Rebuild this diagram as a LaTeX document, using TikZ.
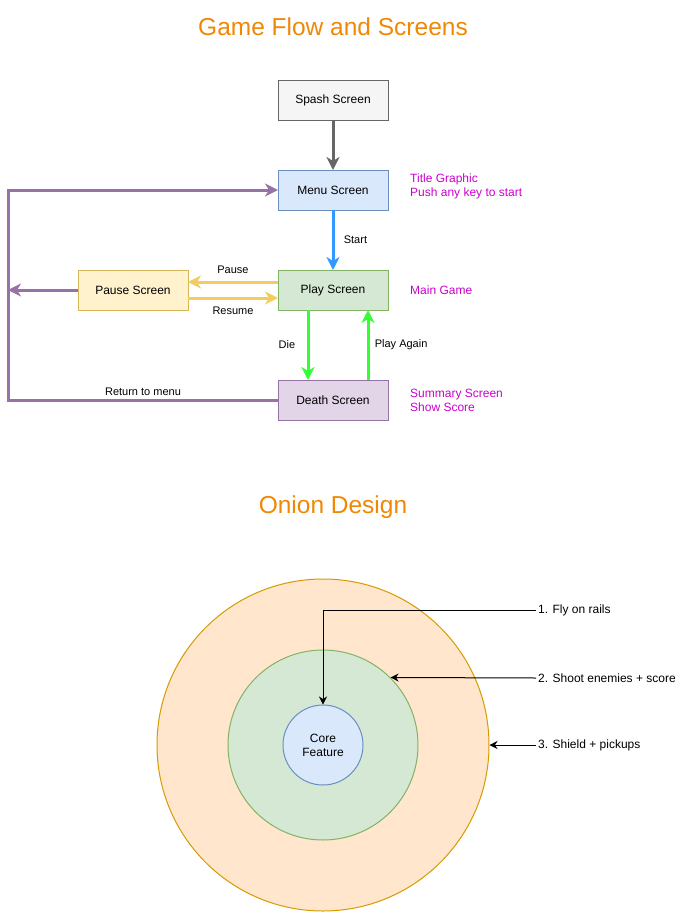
\documentclass[tikz,border=0pt]{standalone}
\usepackage{fontspec}
\setmainfont{Liberation Sans}
\usepackage{xcolor}
\usetikzlibrary{arrows.meta}
\usetikzlibrary{positioning}

\definecolor{titleorange}{HTML}{F08705}
\definecolor{notemagenta}{HTML}{CC00CC}
\definecolor{grayfill}{HTML}{F5F5F5}
\definecolor{grayline}{HTML}{666666}
\definecolor{bluefill}{HTML}{DAE8FC}
\definecolor{blueline}{HTML}{6C8EBF}
\definecolor{greenfill}{HTML}{D5E8D4}
\definecolor{greenline}{HTML}{82B366}
\definecolor{purplefill}{HTML}{E1D5E7}
\definecolor{purpleline}{HTML}{9673A6}
\definecolor{yellowfill}{HTML}{FFF2CC}
\definecolor{yellowline}{HTML}{D6B656}
\definecolor{orangefill}{HTML}{FFE6CC}
\definecolor{orangeline}{HTML}{D79B00}
\definecolor{startblue}{HTML}{3399FF}
\definecolor{pausegold}{HTML}{F2CC60}
\definecolor{diegreen}{HTML}{33FF33}

\begin{document}
\begin{tikzpicture}[x=1pt, y=-1pt, >={Stealth[length=13pt, width=13pt, inset=4pt]}, font=\fontsize{12}{14}\selectfont]
\tikzstyle{screen} = [draw, rectangle, line width=1pt, outer sep=0pt, minimum width=110pt, minimum height=40pt, text=black]
\tikzstyle{flow} = [->, line width=3pt]
\tikzstyle{pointer} = [-{Stealth[length=8pt, width=8pt, inset=2.5pt]}, line width=1pt, black]
\tikzstyle{note} = [text=notemagenta, align=left, anchor=west, inner sep=0pt]
\tikzstyle{lbl} = [font=\fontsize{11}{13}\selectfont, text=black]
\tikzstyle{ring} = [draw, circle, line width=1pt, inner sep=0pt]
\tikzstyle{heading} = [text=titleorange, font=\fontsize{24.5}{29}\selectfont]

\useasboundingbox (0,0) rectangle (689,913);

% game flow
\node[heading] (T1) at (333,27) {Game Flow and Screens};

\node[screen, fill=grayfill, draw=grayline] (A) at (333,100) {Spash Screen};
\node[screen, fill=bluefill, draw=blueline] (B)[below=50pt of A] {Menu Screen};
\node[screen, fill=greenfill, draw=greenline] (C)[below=60pt of B] {Play Screen};
\node[screen, fill=purplefill, draw=purpleline] (D)[below=70pt of C] {Death Screen};
\node[screen, fill=yellowfill, draw=yellowline] (E)[left=90pt of C] {Pause Screen};
\coordinate (L) at (8,290);

\node[note, yshift=4pt] (N1)[right=22pt of B] {Title Graphic\\Push any key to start};
\node[note] (N2)[right=22pt of C] {Main Game};
\node[note] (N3)[right=22pt of D] {Summary Screen\\Show Score};

\draw[flow, draw=grayline] (A) -- (B);
\draw[flow, draw=startblue] (B) -- node[lbl, right=6pt]{Start} (C);
\draw[flow, draw=pausegold] ([yshift=8pt]C.west) -- node[lbl, above=4pt]{Pause} ([yshift=8pt]E.east);
\draw[flow, draw=pausegold] ([yshift=-8pt]E.east) -- node[lbl, below=4pt]{Resume} ([yshift=-8pt]C.west);
\draw[flow, draw=diegreen] ([xshift=-25pt]C.south) -- node[lbl, left=8pt]{Die} ([xshift=-25pt]D.north);
\draw[flow, draw=diegreen] ([xshift=35pt]D.north) -- node[lbl, right=2pt]{Play Again} ([xshift=35pt]C.south);
\draw[flow, draw=purpleline] (E.west) -- (E.west -| L);
\draw[flow, draw=purpleline] (D.west) -- node[lbl, above=0pt]{Return to menu} (D.west -| L) |- (B.west);

% onion
\node[heading] (T2) at (333,507) {Onion Design};

\node[ring, fill=orangefill, draw=orangeline, minimum size=332pt] (O1) at (323,745) {};
\node[ring, fill=greenfill, draw=greenline, minimum size=190pt] (O2) at (323,745) {};
\node[ring, fill=bluefill, draw=blueline, minimum size=80pt, align=center] (O3) at (323,745) {Core\\Feature};

\node[anchor=west, inner sep=2pt] (F1) at (536,610) {1. Fly on rails};
\node[anchor=west, inner sep=2pt] (F2) at (536,678) {2. Shoot enemies + score};
\node[anchor=west, inner sep=2pt] (F3) at (536,745) {3. Shield + pickups};

\draw[pointer] (F1.west) -| (O3.north);
\draw[pointer] (F2.west) -- (O2.45);
\draw[pointer] (F3.west) -- (O1.east);

\end{tikzpicture}
\end{document}
